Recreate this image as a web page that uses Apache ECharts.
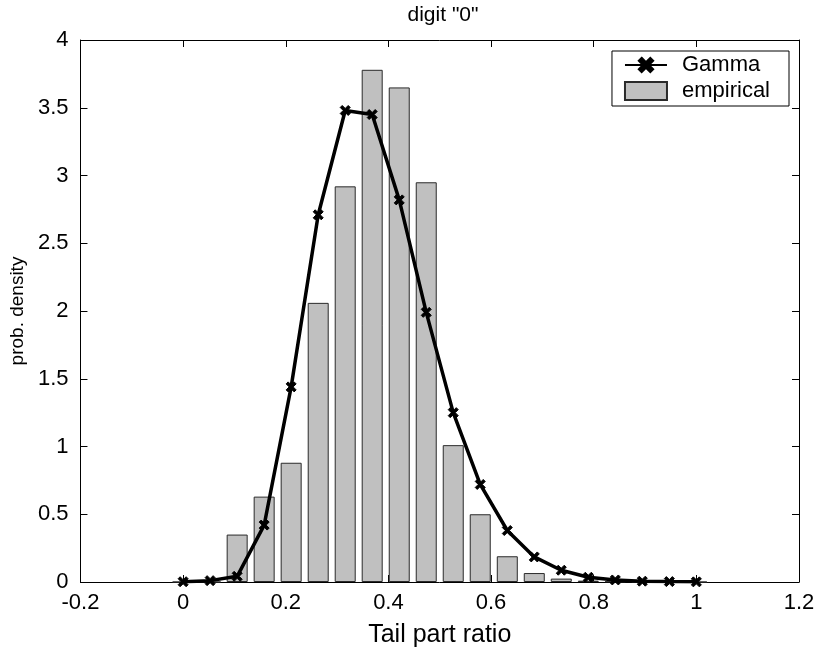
<!DOCTYPE html>
<html>
<head>
<meta charset="utf-8">
<script src="https://cdn.jsdelivr.net/npm/echarts@6/dist/echarts.min.js"></script>
<style>
html,body{margin:0;padding:0;background:#fff;}
#chart{width:818px;height:653px;}
</style>
</head>
<body>
<div id="chart"></div>
<script>
// bin centres (tail part ratio)
var binCenters = [0, 0.0526, 0.1053, 0.1579, 0.2105, 0.2632, 0.3158, 0.3684, 0.4211, 0.4737,
                  0.5263, 0.5789, 0.6316, 0.6842, 0.7368, 0.7895, 0.8421, 0.8947, 0.9474, 1.0];
// empirical histogram density
var empirical = [0, 0, 0.35, 0.63, 0.88, 2.06, 2.92, 3.78, 3.65, 2.95,
                 1.01, 0.50, 0.19, 0.066, 0.025, 0.01, 0.004, 0, 0, 0];
// Gamma fit density
var gamma = [0.002, 0.01, 0.042, 0.42, 1.44, 2.71, 3.48, 3.45, 2.82, 1.99,
             1.25, 0.72, 0.38, 0.185, 0.087, 0.035, 0.015, 0.006, 0.003, 0.001];
var xTicks = [-0.2, 0, 0.2, 0.4, 0.6, 0.8, 1, 1.2];
var yTicks = [0, 0.5, 1, 1.5, 2, 2.5, 3, 3.5, 4];

var font = 'Liberation Sans, Arial, sans-serif';
var chart = echarts.init(document.getElementById('chart'), null, {renderer: 'canvas'});
var fmt = function (v) { return String(parseFloat(Number(v).toFixed(2))); };
var xMark = 'path://M2,0 L5,3 L8,0 L10,2 L7,5 L10,8 L8,10 L5,7 L2,10 L0,8 L3,5 L0,2 Z';

var option = {
  backgroundColor: '#fff',
  animation: false,
  title: {
    text: 'digit "0"', left: 438, top: 0, textAlign: 'center',
    textStyle: {fontFamily: font, fontSize: 21, fontWeight: 'normal', color: '#000'}
  },
  grid: {left: 80, right: 19, top: 40, bottom: 69, containLabel: false},
  legend: {
    orient: 'vertical', right: 29, top: 51,
    backgroundColor: '#fff', borderColor: '#000', borderWidth: 1,
    padding: [3, 19, 4, 12], itemGap: 4, itemWidth: 42, itemHeight: 18,
    textStyle: {fontFamily: font, fontSize: 22, color: '#000', padding: [0, 0, 0, 10]},
    data: [{name: 'Gamma'}, {name: 'empirical', icon: 'rect'}]
  },
  xAxis: [{
    type: 'value', min: xTicks[0], max: xTicks[xTicks.length - 1], interval: 0.2,
    position: 'bottom',
    name: 'Tail part ratio', nameLocation: 'middle', nameGap: 41,
    nameTextStyle: {fontFamily: font, fontSize: 25, color: '#000'},
    axisLine: {show: true, onZero: false, lineStyle: {color: '#000', width: 1}},
    axisTick: {show: true, inside: true, length: 7, lineStyle: {color: '#000'}},
    axisLabel: {fontFamily: font, fontSize: 22, color: '#000', margin: 10, formatter: fmt},
    splitLine: {show: false}
  }, {
    type: 'value', min: xTicks[0], max: xTicks[xTicks.length - 1], interval: 0.2,
    position: 'top',
    axisLine: {show: true, onZero: false, lineStyle: {color: '#000', width: 1}},
    axisTick: {show: true, inside: true, length: 7, lineStyle: {color: '#000'}},
    axisLabel: {show: false}, splitLine: {show: false}
  }],
  yAxis: [{
    type: 'value', min: yTicks[0], max: yTicks[yTicks.length - 1], interval: 0.5,
    position: 'left',
    name: 'prob. density', nameLocation: 'middle', nameGap: 49, nameRotate: 90,
    nameTextStyle: {fontFamily: font, fontSize: 19, color: '#000'},
    axisLine: {show: true, onZero: false, lineStyle: {color: '#000', width: 1}},
    axisTick: {show: true, inside: true, length: 7, lineStyle: {color: '#000'}},
    axisLabel: {fontFamily: font, fontSize: 22, color: '#000', margin: 12, formatter: fmt},
    splitLine: {show: false}
  }, {
    type: 'value', min: yTicks[0], max: yTicks[yTicks.length - 1], interval: 0.5,
    position: 'right',
    axisLine: {show: true, onZero: false, lineStyle: {color: '#000', width: 1}},
    axisTick: {show: true, inside: true, length: 7, lineStyle: {color: '#000'}},
    axisLabel: {show: false}, splitLine: {show: false}
  }],
  series: [{
    name: 'empirical', type: 'bar', xAxisIndex: 0, yAxisIndex: 0,
    barWidth: 21, z: 2,
    itemStyle: {color: '#c0c0c0', borderColor: '#2a2a2a', borderWidth: 1},
    data: binCenters.map(function (x, i) { return [x, empirical[i]]; })
  }, {
    name: 'Gamma', type: 'line', xAxisIndex: 0, yAxisIndex: 0, z: 5,
    symbol: xMark, symbolSize: 10, showSymbol: true,
    lineStyle: {color: '#000', width: 3.5},
    itemStyle: {color: '#000', borderColor: '#000', borderWidth: 1},
    data: binCenters.map(function (x, i) { return [x, gamma[i]]; })
  }]
};
chart.setOption(option);
</script>
</body>
</html>
